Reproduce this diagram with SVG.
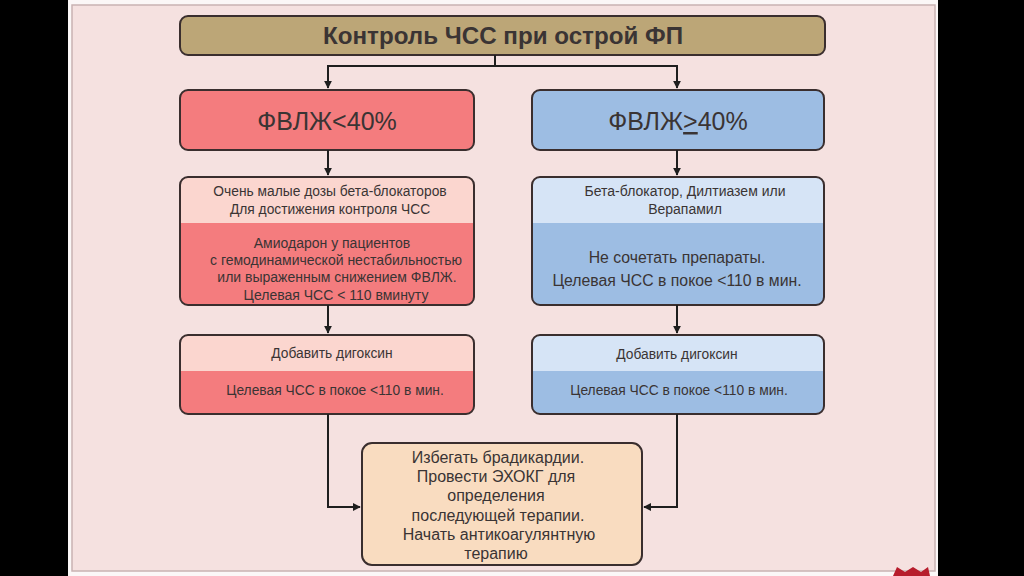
<svg xmlns="http://www.w3.org/2000/svg" width="1024" height="576" viewBox="0 0 1024 576">
<defs>
<marker id="arr" viewBox="0 0 10 10" refX="9" refY="5" markerWidth="4" markerHeight="4" orient="auto" markerUnits="strokeWidth">
<path d="M0,0 L10,5 L0,10 Z" fill="#1e1e1e"/>
</marker>
</defs>
<style>
.box{stroke:#3a2e2e;stroke-width:2;}
.t{font-family:"Liberation Sans",Arial,sans-serif;text-anchor:middle;fill:#3a3434;}
.conn{fill:none;stroke:#1e1e1e;stroke-width:2;}
</style>
<rect x="0" y="0" width="1024" height="576" fill="#000"/>
<rect x="68" y="0" width="870" height="576" fill="#fbf7f7"/>
<rect x="72" y="5" width="863" height="566" fill="#f5e1e0" stroke="#c9b3b3" stroke-width="1.5"/>
<path d="M893,576 L897,567 L905,572 L913,567 L921,572 L928,567 L930,576 Z" fill="#b71c2c"/>

<g id="title">
<rect class="box" x="180" y="16" width="645" height="39" rx="8" fill="#bca677"/>
<text class="t" x="503" y="44" font-size="24" font-weight="bold" fill="#2a2626" textLength="360" lengthAdjust="spacingAndGlyphs">Контроль ЧСС при острой ФП</text>
</g>

<g id="lvef-low">
<rect class="box" x="180" y="90" width="294" height="60" rx="8" fill="#f47c7e"/>
<text class="t" x="327" y="130" font-size="25">ФВЛЖ&lt;40%</text>
</g>

<g id="lvef-high">
<rect class="box" x="532" y="90" width="292" height="60" rx="8" fill="#9dbde3"/>
<text class="t" x="678" y="130" font-size="25">ФВЛЖ<tspan text-decoration="underline">&gt;</tspan>40%</text>
</g>

<g id="left-therapy">
<rect x="180" y="177" width="294" height="128" rx="8" fill="#f47c7e"/>
<path d="M180,223 V185 Q180,177 188,177 H466 Q474,177 474,185 V223 Z" fill="#fbd6cf"/>
<rect class="box" x="180" y="177" width="294" height="128" rx="8" fill="none"/>
<text class="t" x="330" y="196" font-size="13.8">Очень малые дозы бета-блокаторов</text>
<text class="t" x="330" y="214" font-size="13.8">Для достижения контроля ЧСС</text>
<text class="t" x="332" y="248" font-size="14">Амиодарон у пациентов</text>
<text class="t" x="336" y="265" font-size="14">с гемодинамической нестабильностью</text>
<text class="t" x="337" y="282" font-size="14">или выраженным снижением ФВЛЖ.</text>
<text class="t" x="336" y="300" font-size="14">Целевая ЧСС &lt; 110 вминуту</text>
</g>

<g id="right-therapy">
<rect x="532" y="177" width="292" height="128" rx="8" fill="#9dbde3"/>
<path d="M532,223 V185 Q532,177 540,177 H816 Q824,177 824,185 V223 Z" fill="#d6e4f6"/>
<rect class="box" x="532" y="177" width="292" height="128" rx="8" fill="none"/>
<text class="t" x="685" y="196" font-size="14">Бета-блокатор, Дилтиазем или</text>
<text class="t" x="685" y="214" font-size="14">Верапамил</text>
<text class="t" x="677" y="263" font-size="15.8">Не сочетать препараты.</text>
<text class="t" x="677" y="286" font-size="15.8">Целевая ЧСС в покое &lt;110 в мин.</text>
</g>

<g id="left-digoxin">
<rect x="180" y="335" width="294" height="79" rx="8" fill="#f47c7e"/>
<path d="M180,371 V343 Q180,335 188,335 H466 Q474,335 474,343 V371 Z" fill="#fbd6cf"/>
<rect class="box" x="180" y="335" width="294" height="79" rx="8" fill="none"/>
<text class="t" x="332" y="358" font-size="13.8">Добавить дигоксин</text>
<text class="t" x="335" y="395" font-size="13.8">Целевая ЧСС в покое &lt;110 в мин.</text>
</g>

<g id="right-digoxin">
<rect x="532" y="335" width="292" height="79" rx="8" fill="#9dbde3"/>
<path d="M532,371 V343 Q532,335 540,335 H816 Q824,335 824,343 V371 Z" fill="#d6e4f6"/>
<rect class="box" x="532" y="335" width="292" height="79" rx="8" fill="none"/>
<text class="t" x="677" y="359" font-size="13.8">Добавить дигоксин</text>
<text class="t" x="679" y="395" font-size="13.8">Целевая ЧСС в покое &lt;110 в мин.</text>
</g>

<g id="final">
<rect class="box" x="362" y="443" width="280" height="122" rx="10" fill="#f9dcc0"/>
<text class="t" x="498" y="463" font-size="16">Избегать брадикардии.</text>
<text class="t" x="496" y="482" font-size="16">Провести ЭХОКГ для</text>
<text class="t" x="496" y="501" font-size="16">определения</text>
<text class="t" x="498" y="521" font-size="16">последующей терапии.</text>
<text class="t" x="499" y="540" font-size="16">Начать антикоагулянтную</text>
<text class="t" x="496" y="559" font-size="16">терапию</text>
</g>

<g id="connectors">
<path class="conn" d="M495,55 V66 H328 V88" marker-end="url(#arr)"/>
<path class="conn" d="M495,66 H677 V88" marker-end="url(#arr)"/>
<path class="conn" d="M328,150 V175" marker-end="url(#arr)"/>
<path class="conn" d="M677,150 V175" marker-end="url(#arr)"/>
<path class="conn" d="M328,305 V333" marker-end="url(#arr)"/>
<path class="conn" d="M677,305 V333" marker-end="url(#arr)"/>
<path class="conn" d="M328,414 V507 H360" marker-end="url(#arr)"/>
<path class="conn" d="M677,414 V507 H644" marker-end="url(#arr)"/>
</g>
</svg>
